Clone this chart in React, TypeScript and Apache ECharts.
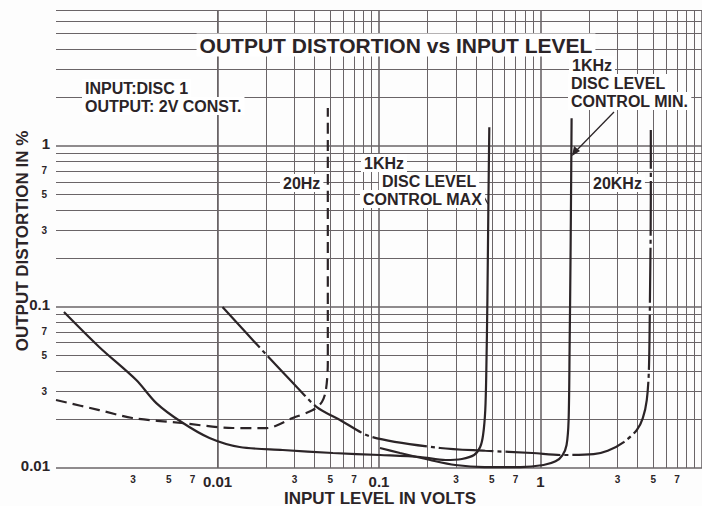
import React, { useEffect, useRef } from 'react';
import * as echarts from 'echarts';

// Curves: [input level in volts, output distortion in %]
const controlMax: [number, number][] = [
  [0.00112, 0.0931], [0.00185, 0.0565], [0.00314, 0.0352], [0.00418, 0.0253],
  [0.00598, 0.0193], [0.00892, 0.01536], [0.0137, 0.0135], [0.0253, 0.01294],
  [0.0518, 0.01239], [0.1014, 0.01204], [0.18, 0.0117], [0.258, 0.01121],
  [0.326, 0.01138], [0.388, 0.01204], [0.423, 0.0135], [0.441, 0.01603],
  [0.455, 0.0229], [0.462, 0.0406], [0.469, 0.1105], [0.476, 0.462], [0.482, 1.31],
];
const controlMin: [number, number][] = [
  [0.1014, 0.01331], [0.135, 0.01239], [0.2074, 0.01121], [0.2966, 0.01044],
  [0.45, 0.01014], [0.751, 0.01014], [1.044, 0.01044], [1.239, 0.011],
  [1.37, 0.01204], [1.45, 0.0139], [1.493, 0.01987], [1.514, 0.0541],
  [1.536, 0.226], [1.558, 1.49],
];
const hz20: [number, number][] = [
  [0.001, 0.02644], [0.00185, 0.0229], [0.00297, 0.02045], [0.00598, 0.01904],
  [0.01239, 0.01772], [0.0201, 0.0177], [0.0292, 0.02045], [0.0389, 0.0229],
  [0.0443, 0.0257], [0.0469, 0.0305], [0.0482, 0.0449], [0.0482, 0.147], [0.0482, 1.722],
];
const khz20: [number, number][] = [
  [0.01074, 0.1], [0.02015, 0.0503], [0.03095, 0.0319], [0.0412, 0.0239],
  [0.0573, 0.01987], [0.0905, 0.01557], [0.2393, 0.01331], [0.455, 0.0128],
  [0.892, 0.01239], [1.331, 0.01204], [2.133, 0.0122], [2.607, 0.0128],
  [3.28, 0.0145], [3.95, 0.01722], [4.3, 0.0204], [4.55, 0.02644],
  [4.69, 0.0406], [4.76, 0.1105], [4.82, 0.462], [4.82, 1.257],
];

// Tick labels
const xMinorLabels: [number, string][] = [
  [0.003, '3'], [0.005, '5'], [0.007, '7'],
  [0.03, '3'], [0.05, '5'], [0.07, '7'],
  [0.3, '3'], [0.5, '5'], [0.7, '7'],
  [3, '3'], [5, '5'], [7, '7'],
];
const xMajorLabels: [number, string][] = [[0.01, '0.01'], [0.1, '0.1'], [1, '1']];
const yMinorLabels: [number, string][] = [
  [0.03, '3'], [0.05, '5'], [0.07, '7'],
  [0.3, '3'], [0.5, '5'], [0.7, '7'],
];
const yMajorLabels: [number, string][] = [[0.01, '0.01'], [0.1, '0.1'], [1, '1']];

const xDecades = [0.001, 0.01, 0.1, 1];
const yDecades = [0.01, 0.1, 1];
const multiples = [2, 3, 4, 5, 6, 7, 8, 9];

const X_MIN = 0.001;
const X_MAX = 10;
const Y_MIN = 0.01;
const Y_MAX = 7;

const FONT = '"Liberation Sans", Arial, sans-serif';
const INK = '#2b2427';
const GRID = '#6a6467';

export default function App() {
  const ref = useRef<HTMLDivElement>(null);

  useEffect(() => {
    if (!ref.current) return;
    const chart = echarts.init(ref.current, undefined, { renderer: 'svg' });

    const gridLines: any[] = [];
    const addX = (v: number, major: boolean) =>
      gridLines.push({
        xAxis: v,
        lineStyle: { color: GRID, width: major ? 1.6 : 1, type: 'solid' },
      });
    const addY = (v: number, major: boolean) =>
      gridLines.push({
        yAxis: v,
        lineStyle: { color: GRID, width: major ? 1.6 : 1, type: 'solid' },
      });
    xDecades.forEach((d) => {
      addX(d, true);
      multiples.forEach((m) => addX(+(d * m).toPrecision(3), false));
    });
    addX(X_MAX, true);
    yDecades.forEach((d) => {
      addY(d, true);
      multiples.forEach((m) => {
        const v = +(d * m).toPrecision(3);
        if (v <= Y_MAX) addY(v, false);
      });
    });

    const curve = (name: string, data: [number, number][], type: any) => ({
      name,
      type: 'line',
      data,
      showSymbol: false,
      symbol: 'none',
      smooth: 0.3,
      z: 5,
      lineStyle: { color: INK, width: 2.2, type, cap: 'butt' },
    });

    chart.setOption({
      animation: false,
      backgroundColor: '#fdfdfd',
      grid: { left: 56, right: -2, top: 10, bottom: 38 },
      xAxis: {
        type: 'log',
        logBase: 10,
        min: X_MIN,
        max: X_MAX,
        axisLabel: { show: false },
        axisTick: { show: false },
        axisLine: { show: false },
        splitLine: { show: false },
      },
      yAxis: {
        type: 'log',
        logBase: 10,
        min: Y_MIN,
        max: Y_MAX,
        axisLabel: { show: false },
        axisTick: { show: false },
        axisLine: { show: false },
        splitLine: { show: false },
      },
      series: [
        {
          name: 'grid',
          type: 'line',
          data: [],
          silent: true,
          markLine: {
            silent: true,
            symbol: ['none', 'none'],
            animation: false,
            label: { show: false },
            data: gridLines,
          },
        },
        curve('1KHz DISC LEVEL CONTROL MAX', controlMax, 'solid'),
        curve('1KHz DISC LEVEL CONTROL MIN.', controlMin, 'solid'),
        curve('20Hz', hz20, [11, 6]),
        curve('20KHz', khz20, [55, 4, 4, 4]),
      ],
    });

    let uid = 0;
    const txt = (
      text: string,
      x: number,
      y: number,
      size = 16,
      align = 'left',
      bg = true,
      z = 60
    ) => ({
      type: 'text',
      id: `t${uid++}`,
      x,
      y,
      z,
      zlevel: z >= 100 ? 1 : 0,
      style: {
        text,
        font: `bold ${size}px ${FONT}`,
        fill: INK,
        align,
        verticalAlign: 'middle',
        backgroundColor: bg ? '#ffffff' : undefined,
        padding: bg ? [1, 3] : 0,
      },
    });

    const richTxt = (t: string, x: number, y: number, size: number) => ({
      type: 'text',
      id: `r${uid++}`,
      x,
      y,
      z: 100,
      zlevel: 1,
      style: {
        text: `{n|${t}}`,
        rich: {
          n: {
            fontFamily: FONT,
            fontWeight: 'bold',
            fontSize: size,
            fill: INK,
            color: INK,
          },
        },
        align: 'center',
        verticalAlign: 'middle',
      },
    });

    const toPx = (p: [number, number]) =>
      chart.convertToPixel({ gridIndex: 0 }, p) as number[];

    const tickTexts: any[] = [];
    xMinorLabels.forEach(([v, t]) => {
      const [x, y] = toPx([v, Y_MIN]);
      tickTexts.push(richTxt(t, x, y + 11, 10));
    });
    xMajorLabels.forEach(([v, t]) => {
      const [x, y] = toPx([v, Y_MIN]);
      tickTexts.push(txt(t, x, y + 13, 15, 'center', false, 100));
    });
    yMinorLabels.forEach(([v, t]) => {
      const [x, y] = toPx([X_MIN, v]);
      tickTexts.push(txt(t, x - 9, y, 10, 'right', false, 100));
    });
    yMajorLabels.forEach(([v, t]) => {
      const [x, y] = toPx([X_MIN, v]);
      tickTexts.push(txt(t, x - 6, y - 3, 15, 'right', false, 100));
    });

    chart.setOption({
      graphic: [
        ...tickTexts,
        txt('OUTPUT DISTORTION vs INPUT LEVEL', 396, 45, 21, 'center'),
        txt('INPUT:DISC 1', 82, 88, 16),
        txt('OUTPUT: 2V CONST.', 82, 106, 16),
        txt('20Hz', 280, 183, 16),
        txt('1KHz', 361, 163, 16),
        txt('DISC LEVEL', 379, 181, 16),
        txt('CONTROL MAX', 360, 199, 16),
        txt('1KHz', 569, 65, 16),
        txt('DISC LEVEL', 568, 83, 16),
        txt('CONTROL MIN.', 568, 101, 16),
        txt('20KHz', 590, 183, 16),
        {
          type: 'line',
          id: 'lead1',
          z: 51,
          shape: { x1: 483, y1: 195, x2: 488, y2: 204 },
          style: { stroke: INK, lineWidth: 1.3 },
        },
        {
          type: 'line',
          id: 'lead2',
          z: 51,
          shape: { x1: 614, y1: 112, x2: 575, y2: 152 },
          style: { stroke: INK, lineWidth: 1.3 },
        },
        {
          type: 'polygon',
          id: 'arrowhead',
          z: 51,
          shape: { points: [[572, 156], [574, 146], [580, 151]] },
          style: { fill: INK },
        },
        txt('INPUT LEVEL IN VOLTS', 380, 498, 17, 'center', false),
        {
          type: 'text',
          id: 'ytitle',
          x: 22,
          y: 241,
          z: 50,
          rotation: Math.PI / 2,
          style: {
            text: 'OUTPUT DISTORTION IN %',
            font: `bold 17px ${FONT}`,
            fill: INK,
            align: 'center',
            verticalAlign: 'middle',
          },
        },
      ],
    });

    return () => chart.dispose();
  }, []);

  return (
    <div
      ref={ref}
      style={{ position: 'fixed', left: 0, top: 0, width: 702, height: 506 }}
    />
  );
}
